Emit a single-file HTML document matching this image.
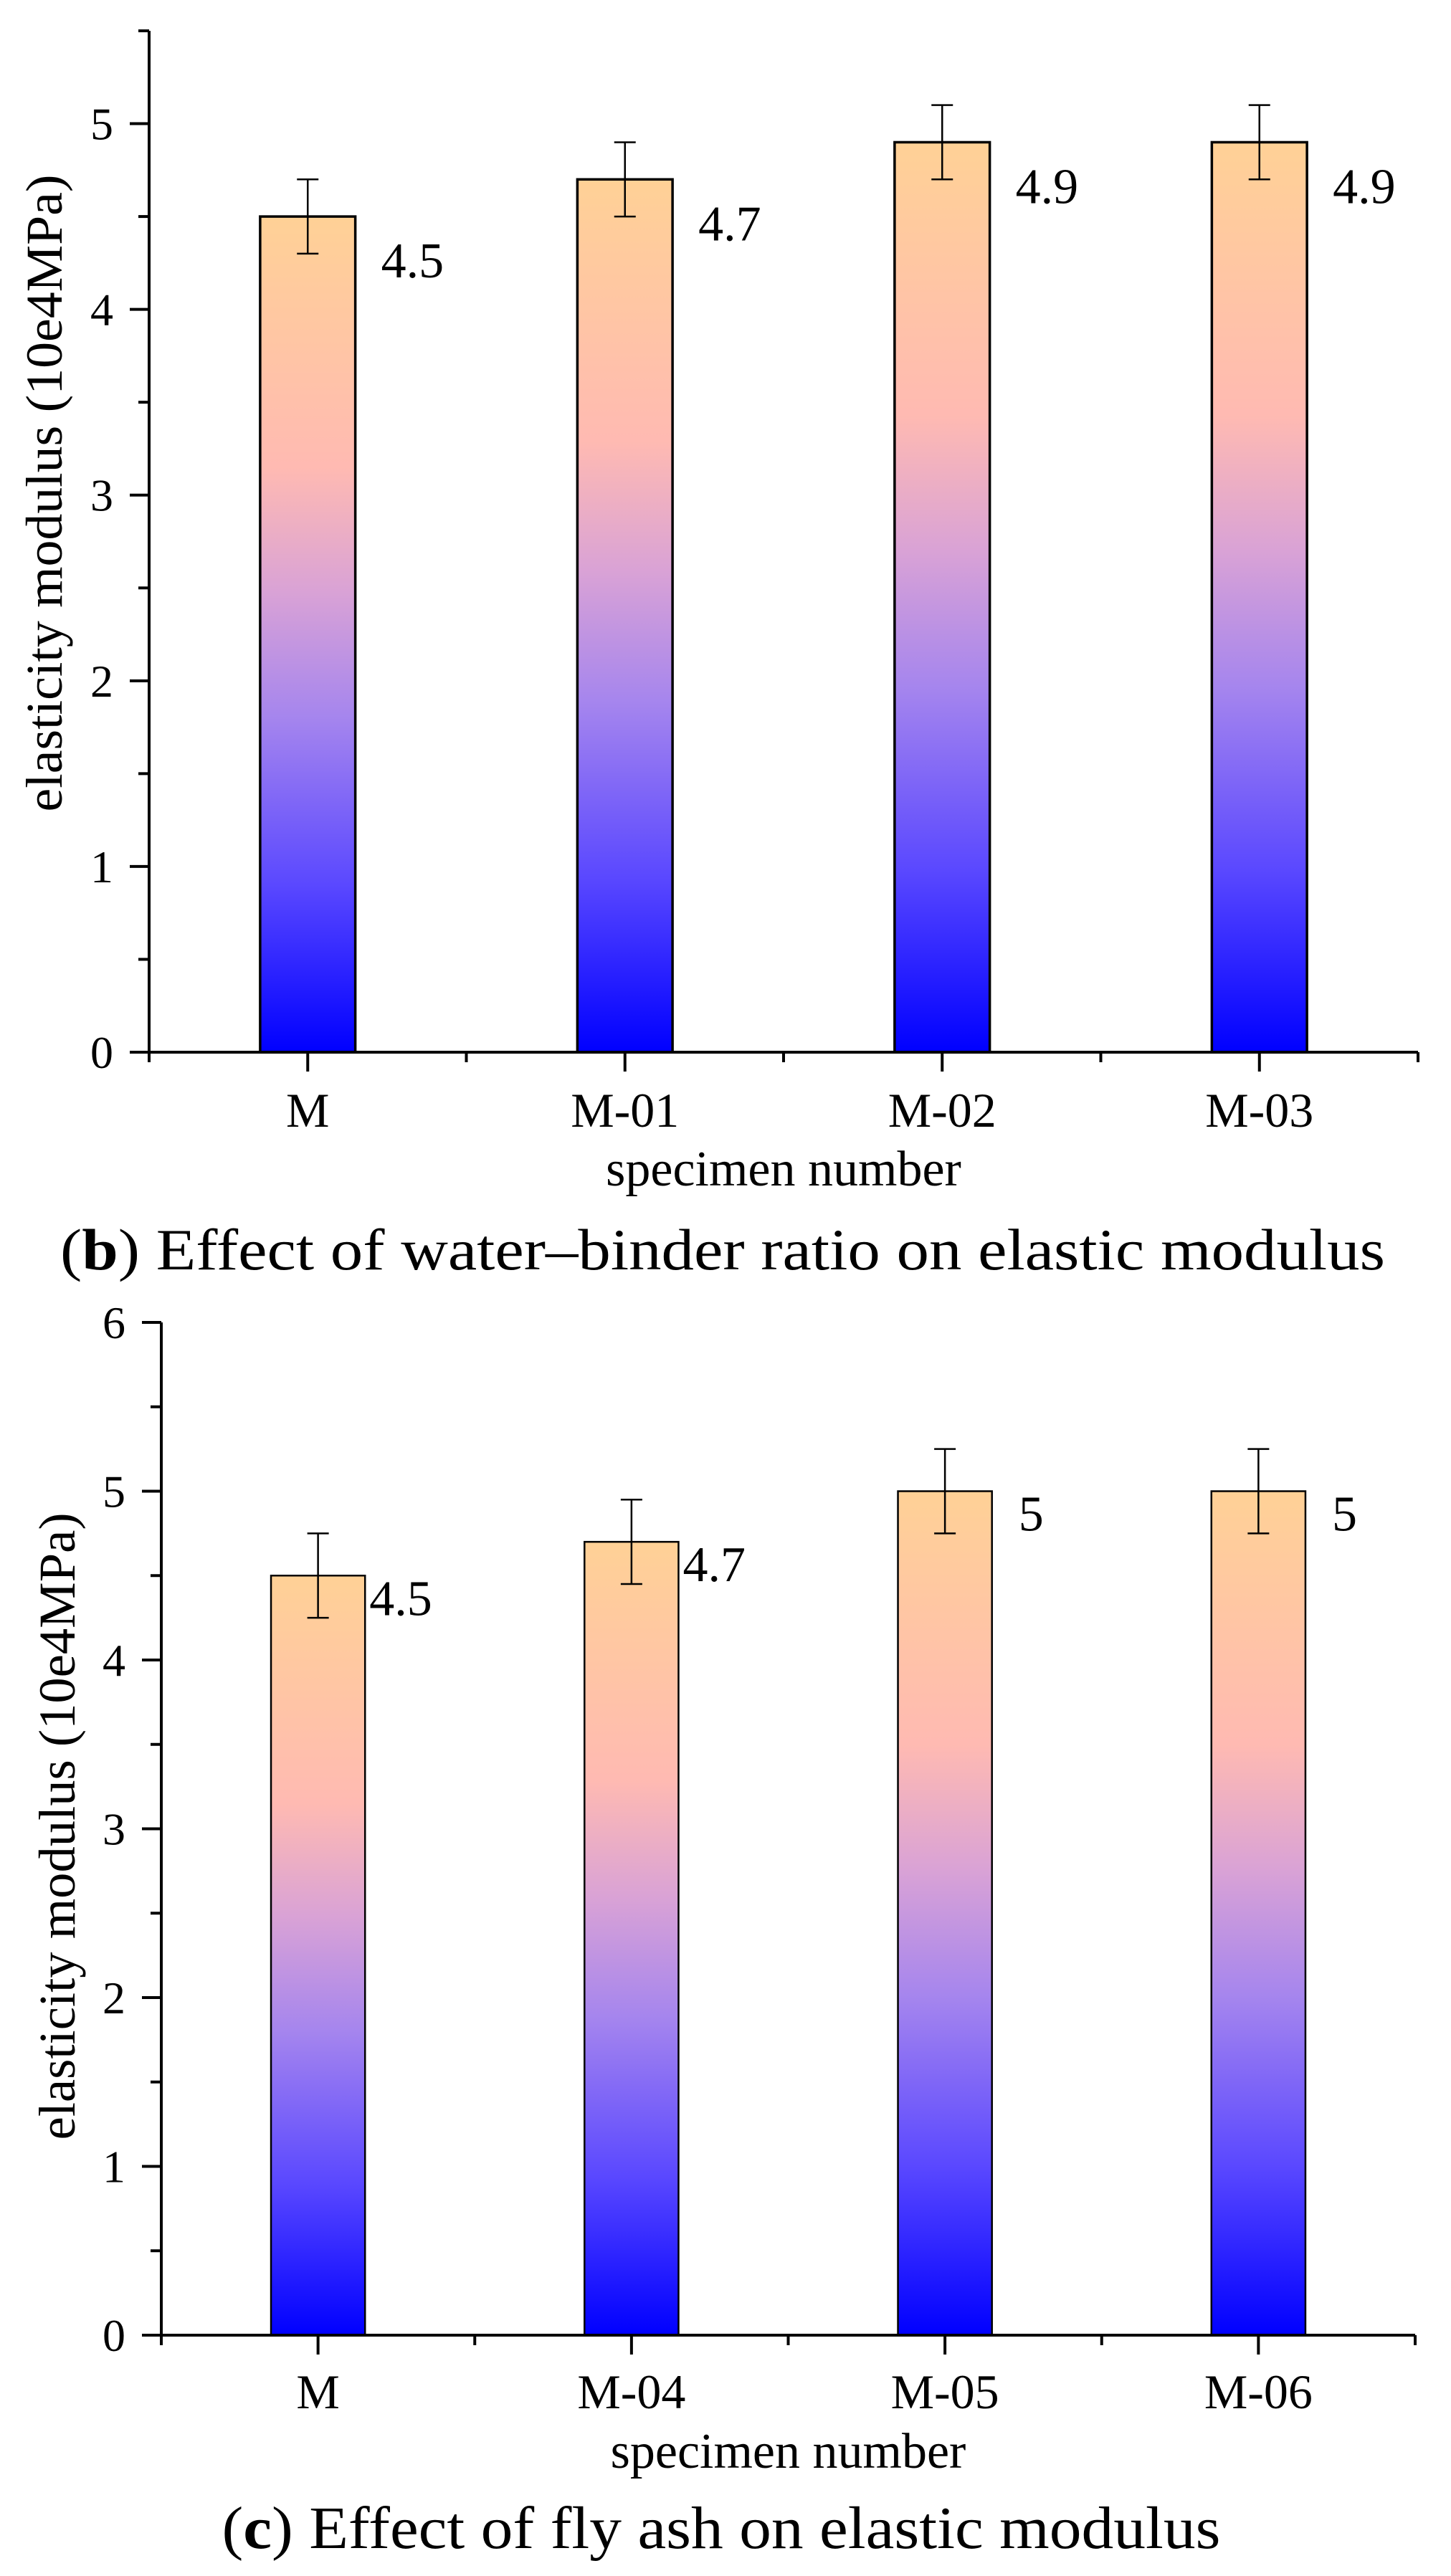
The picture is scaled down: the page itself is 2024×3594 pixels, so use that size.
<!DOCTYPE html>
<html><head><meta charset="utf-8"><style>
html,body{margin:0;padding:0;background:#fff;}
svg{display:block;}
text{font-family:"Liberation Serif",serif;fill:#000;}
</style></head><body>
<svg id="fig" width="2024" height="3594" viewBox="0 0 2024 3594" xmlns="http://www.w3.org/2000/svg">
<defs>
<linearGradient id="barGrad" x1="0" y1="1" x2="0" y2="0">
<stop offset="0" stop-color="#0000ff"/>
<stop offset="0.2" stop-color="#5a48ff"/>
<stop offset="0.4" stop-color="#a585ee"/>
<stop offset="0.55" stop-color="#d9a2d6"/>
<stop offset="0.7" stop-color="#ffbab2"/>
<stop offset="1" stop-color="#ffd196"/>
</linearGradient>
</defs>
<g id="chartB"></g>
<g id="chartC"></g>
<text x="1008" y="1771" font-size="82" text-anchor="middle" textLength="1848" lengthAdjust="spacingAndGlyphs">(<tspan font-weight="bold">b</tspan>) Effect of water–binder ratio on elastic modulus</text>
<text x="1006" y="3555" font-size="84" text-anchor="middle" textLength="1393" lengthAdjust="spacingAndGlyphs">(<tspan font-weight="bold">c</tspan>) Effect of fly ash on elastic modulus</text>
</svg>
<script>
const catsB = ["M", "M-01", "M-02", "M-03"];
const valsB = [4.5, 4.7, 4.9, 4.9];
const errsB = [0.2, 0.2, 0.2, 0.2];
const labelsB = ["4.5", "4.7", "4.9", "4.9"];
const ticksB = [0, 1, 2, 3, 4, 5];

const catsC = ["M", "M-04", "M-05", "M-06"];
const valsC = [4.5, 4.7, 5.0, 5.0];
const errsC = [0.25, 0.25, 0.25, 0.25];
const labelsC = ["4.5", "4.7", "5", "5"];
const ticksC = [0, 1, 2, 3, 4, 5, 6];

const NS = "http://www.w3.org/2000/svg";
function mk(parent, tag, attrs) {
  const e = document.createElementNS(NS, tag);
  for (const k in attrs) e.setAttribute(k, attrs[k]);
  parent.appendChild(e);
  return e;
}

function draw(g, cfg, cats, vals, errs, labels, ticks) {
  const y = v => cfg.y0 - (v / cfg.ymax) * (cfg.y0 - cfg.yTop);
  const slot = (cfg.x1 - cfg.x0) / cats.length;
  const x = i => cfg.x0 + slot * (i + 0.5);
  const bw = slot * 0.3;
  cats.forEach((c, i) => {
    const r = mk(g, "rect", {x: x(i) - bw / 2, y: y(vals[i]), width: bw, height: y(0) - y(vals[i]), fill: "url(#barGrad)", stroke: "#000", "stroke-width": cfg.barStroke});
    
    
    const eb = mk(g, "path", {d: `M${x(i)},${y(vals[i] + errs[i])}V${y(vals[i] - errs[i])}M${x(i) - 15},${y(vals[i] + errs[i])}h30M${x(i) - 15},${y(vals[i] - errs[i])}h30`, stroke: "#000", "stroke-width": 2.5, fill: "none"});
    
    
    const dx = cfg.labelDx(vals[i]);
    const t = mk(g, "text", {x: x(i) + bw / 2 + dx, y: y(vals[i]) + cfg.labelDy, "font-size": 70});
    t.textContent = labels[i];
    
    
    const tk = mk(g, "line", {x1: x(i), x2: x(i), y1: cfg.y0, y2: cfg.y0 + 27, stroke: "#000", "stroke-width": 4});
    
    
    const ct = mk(g, "text", {x: x(i), y: cfg.catY, "font-size": 68, "text-anchor": "middle"});
    ct.textContent = c;
    
    
  });
  for (let i = 0; i <= cats.length; i++) {
    const m = mk(g, "line", {x1: cfg.x0 + slot * i, x2: cfg.x0 + slot * i, y1: cfg.y0, y2: cfg.y0 + 14, stroke: "#000", "stroke-width": 4});
    
    
  }
  ticks.forEach(v => {
    const l = mk(g, "line", {x1: cfg.x0 - 27, x2: cfg.x0, y1: y(v), y2: y(v), stroke: "#000", "stroke-width": 4});
    
    
    const t = mk(g, "text", {x: cfg.x0 - 50, y: y(v) + 22, "font-size": 64, "text-anchor": "end"});
    t.textContent = String(v);
    
    
    if (v + 0.5 < cfg.ymax + 0.01) {
      const mm = mk(g, "line", {x1: cfg.x0 - 15, x2: cfg.x0, y1: y(v + 0.5), y2: y(v + 0.5), stroke: "#000", "stroke-width": 4});
      
      
    }
  });
  const ax = mk(g, "path", {d: `M${cfg.x0},${cfg.yTop}V${cfg.y0}H${cfg.x1}`, stroke: "#000", "stroke-width": 4, fill: "none"});
  
  
  const xt = mk(g, "text", {x: (cfg.x0 + cfg.x1) / 2, y: cfg.xTitleY, "font-size": 70, "text-anchor": "middle"});
  xt.textContent = "specimen number";
  
  
  const yt = mk(g, "text", {x: 0, y: 0, "font-size": 72, "text-anchor": "middle", textLength: cfg.yTitleLen, lengthAdjust: "spacingAndGlyphs", transform: `translate(${cfg.yTitleX},${cfg.yTitleY}) rotate(-90)`});
  yt.textContent = "elasticity modulus (10e4MPa)";
  
  
}

draw(document.getElementById("chartB"), {
  x0: 208, x1: 1978, y0: 1468, yTop: 43, ymax: 5.5, barStroke: 3.5,
  labelDx: v => 36, labelDy: 85, catY: 1572, xTitleY: 1654,
  yTitleX: 86, yTitleY: 688, yTitleLen: 889
}, catsB, valsB, errsB, labelsB, ticksB);

draw(document.getElementById("chartC"), {
  x0: 225, x1: 1974, y0: 3258, yTop: 1845, ymax: 6, barStroke: 2.5,
  labelDx: v => (v >= 4.95 ? 37 : 6), labelDy: 55, catY: 3360, xTitleY: 3443,
  yTitleX: 104, yTitleY: 2548, yTitleLen: 875
}, catsC, valsC, errsC, labelsC, ticksC);
</script>
</body></html>
